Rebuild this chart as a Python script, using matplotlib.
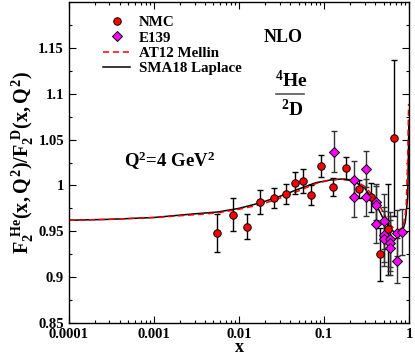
import matplotlib
matplotlib.use("Agg")
import matplotlib.pyplot as plt
import numpy as np
from matplotlib.ticker import FixedLocator, LogLocator, NullFormatter, FixedFormatter

plt.rcParams['font.family'] = ['Liberation Serif', 'DejaVu Serif']
plt.rcParams['font.weight'] = 'bold'
plt.rcParams['mathtext.fontset'] = 'custom'
plt.rcParams['mathtext.rm'] = 'Liberation Serif:bold'
plt.rcParams['mathtext.it'] = 'Liberation Serif:bold'
plt.rcParams['mathtext.bf'] = 'Liberation Serif:bold'

# NMC data
nmc_x = [0.00556, 0.00857, 0.0125, 0.0178, 0.0256, 0.0354, 0.0456, 0.0561, 0.0709,
         0.0914, 0.126, 0.180, 0.256, 0.357, 0.459, 0.566, 0.667]
nmc_y = [0.948, 0.968, 0.955, 0.982, 0.986, 0.991, 1.003, 1.005, 0.990,
         1.021, 0.998, 1.019, 0.996, 0.987, 0.925, 0.952, 1.052]
nmc_err = [0.021, 0.018, 0.014, 0.013, 0.011, 0.011, 0.012, 0.013, 0.011,
           0.012, 0.010, 0.012, 0.010, 0.016, 0.029, 0.050, 0.085]

# E139 data
e139_x = [0.132, 0.225, 0.225, 0.310, 0.310, 0.405, 0.405, 0.405, 0.508, 0.508, 0.508,
          0.60, 0.60, 0.60, 0.72, 0.72, 0.83]
e139_y = [1.037, 1.006, 0.987, 1.018, 0.987, 0.982, 0.979, 0.958, 0.961, 0.946, 0.942,
          0.941, 0.937, 0.932, 0.948, 0.918, 0.949]
e139_err = [0.022, 0.021, 0.021, 0.020, 0.020, 0.020, 0.020, 0.021, 0.030, 0.030, 0.030,
            0.030, 0.030, 0.030, 0.025, 0.025, 0.025]

# AT12 Mellin (red dashed)
at12_x = [1e-4, 3e-4, 1e-3, 3e-3, 0.0056, 0.01, 0.0178, 0.03, 0.05, 0.08, 0.12, 0.16,
          0.22, 0.3, 0.4, 0.5, 0.6, 0.68, 0.75, 0.85, 0.92, 0.96, 0.985]
at12_y = [0.962, 0.963, 0.965, 0.968, 0.970, 0.974, 0.979, 0.986, 0.994, 1.002, 1.006, 1.007,
          1.006, 0.999, 0.986, 0.970, 0.957, 0.952, 0.951, 0.955, 0.975, 1.030, 1.089]

# SMA18 Laplace (black solid)
sma_x = [1e-4, 3e-4, 1e-3, 3e-3, 0.0056, 0.01, 0.0178, 0.03, 0.05, 0.08, 0.12, 0.16,
         0.22, 0.3, 0.4, 0.5, 0.6, 0.68, 0.75, 0.84, 0.9, 0.96, 0.98, 0.99]
sma_y = [0.962, 0.963, 0.965, 0.969, 0.971, 0.975, 0.981, 0.988, 0.996, 1.003, 1.006, 1.007,
         1.005, 0.997, 0.981, 0.963, 0.952, 0.949, 0.949, 0.951, 0.960, 0.987, 1.035, 1.07]

fig = plt.figure(figsize=(4.15, 3.56), dpi=100)
ax = fig.add_axes([0.166, 0.093, 0.820, 0.901])

ax.plot(sma_x, sma_y, color='black', lw=1.1, label='SMA18 Laplace', zorder=2)
ax.plot(at12_x, at12_y, color='red', lw=1.1, ls=(0, (4, 2.5)), label='AT12 Mellin', zorder=2)

ax.errorbar(nmc_x, nmc_y, yerr=nmc_err, fmt='none', ecolor='black', elinewidth=1.0,
            capsize=2, capthick=1.0, zorder=3)
ax.errorbar(e139_x, e139_y, yerr=e139_err, fmt='none', ecolor='#333333', elinewidth=1.0,
            capsize=2, capthick=1.0, zorder=3)
h_nmc, = ax.plot(nmc_x, nmc_y, 'o', ms=5.4, mfc='red', mec='black', mew=0.7, ls='none',
                 label='NMC', zorder=4)
h_e139, = ax.plot(e139_x, e139_y, 'D', ms=4.8, mfc='#ff00ff', mec='black', mew=0.7, ls='none',
                  label='E139', zorder=4)

ax.set_xscale('log')
ax.set_xlim(1e-4, 1)
ax.set_ylim(0.85, 1.2)

xt = [1e-4, 1e-3, 1e-2, 1e-1, 1]
ax.xaxis.set_major_locator(FixedLocator(xt))
ax.xaxis.set_major_formatter(FixedFormatter(['0.0001', '0.001', '0.01', '0.1', '1']))
ax.xaxis.set_minor_locator(LogLocator(base=10, subs=np.arange(2, 10) * 1.0, numticks=20))
ax.xaxis.set_minor_formatter(NullFormatter())
yt = [0.85, 0.9, 0.95, 1.0, 1.05, 1.1, 1.15]
ax.yaxis.set_major_locator(FixedLocator(yt))
ax.yaxis.set_major_formatter(FixedFormatter(['0.85', '0.9', '0.95', '1', '1.05', '1.1', '1.15']))
ax.yaxis.set_minor_locator(FixedLocator(np.arange(0.875, 1.2, 0.05)))

ax.tick_params(which='both', direction='in', top=True, right=True, labelsize=10.5, width=0.8)
ax.tick_params(which='major', length=5)
ax.tick_params(which='minor', length=2)
for lab in ax.get_xticklabels() + ax.get_yticklabels():
    lab.set_fontweight('bold')
for s in ax.spines.values():
    s.set_linewidth(1.0)

ax.set_xlabel('x', fontsize=13, fontweight='bold', labelpad=-1)
ax.set_ylabel(r'$F_{2}^{\ He}(x,Q^{2})/F_{2}^{\ D}(x,Q^{2})$', fontsize=14.5, labelpad=2)

leg = ax.legend([h_nmc, h_e139, ax.lines[1], ax.lines[0]],
                ['NMC', 'E139', 'AT12 Mellin', 'SMA18 Laplace'],
                loc='upper left', bbox_to_anchor=(0.07, 0.99), frameon=False,
                prop={'family': 'Liberation Serif', 'weight': 'bold', 'size': 10.8},
                handlelength=1.8, handletextpad=0.6, labelspacing=0.12, borderpad=0.2)

ax.text(0.63, 0.89, 'NLO', transform=ax.transAxes, ha='center', va='center',
        fontsize=13, fontweight='bold')
ax.text(0.655, 0.755, r'$^4$He', transform=ax.transAxes, ha='center', va='center',
        fontsize=14, fontweight='bold')
ax.plot([0.61, 0.69], [0.715, 0.715], transform=ax.transAxes, color='#555555', lw=1.2)
ax.text(0.655, 0.665, r'$^2$D', transform=ax.transAxes, ha='center', va='center',
        fontsize=14, fontweight='bold')
ax.text(0.295, 0.505, r'Q$^2$=4 GeV$^2$', transform=ax.transAxes, ha='center', va='center',
        fontsize=13.5, fontweight='bold')

fig.savefig('out.png', dpi=100)
